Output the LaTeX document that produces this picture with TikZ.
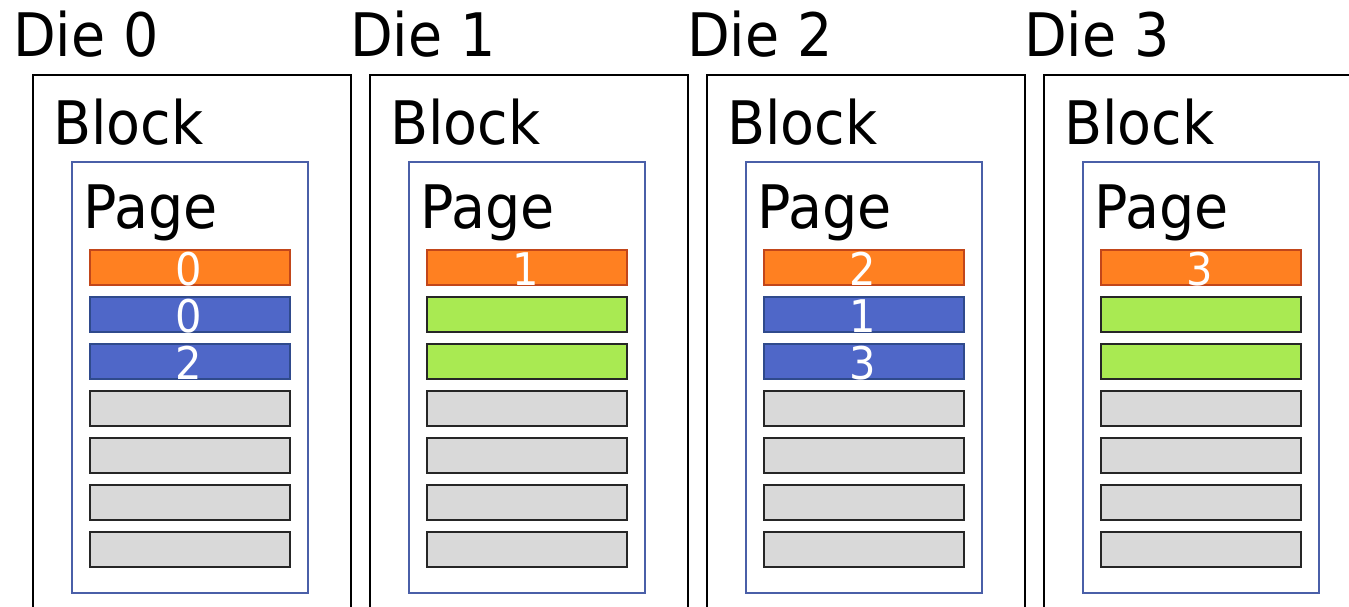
\documentclass[tikz,border=0pt]{standalone}
\usepackage{fontspec}
\setmainfont{DejaVu Sans}[FakeStretch=0.925]
\definecolor{pageorange}{HTML}{FF8021}
\definecolor{pageorangeline}{HTML}{C2461A}
\definecolor{pageblue}{HTML}{4F67C8}
\definecolor{pageblueline}{HTML}{2F4A8C}
\definecolor{pagegreen}{HTML}{A9EA52}
\definecolor{pagegray}{HTML}{D9D9D9}
\definecolor{frameblue}{HTML}{4A5FA8}
\tikzset{
  biglabel/.style={anchor=base west, inner sep=0pt, font=\fontsize{60}{60}\selectfont},
  diebox/.style={draw=black, line width=2pt, anchor=north west, inner sep=0pt,
                 minimum width=318pt, minimum height=560pt},
  pagebox/.style={draw=frameblue, line width=1.6pt, anchor=north west, inner sep=0pt,
                  minimum width=236pt, minimum height=431pt},
  slot/.style={anchor=north west, inner sep=0pt, line width=1.6pt,
               minimum width=200pt, minimum height=35pt},
  slotorange/.style={slot, fill=pageorange, draw=pageorangeline},
  slotblue/.style={slot, fill=pageblue, draw=pageblueline},
  slotgreen/.style={slot, fill=pagegreen, draw=black!85},
  slotgray/.style={slot, fill=pagegray, draw=black!85},
  slotnum/.style={anchor=base, inner sep=0pt, text=white, font=\fontsize{45}{45}\selectfont},
}
\begin{document}
\begin{tikzpicture}[x=1pt, y=-1pt]
  \useasboundingbox (0,0) rectangle (1349,607);
  \clip (0,0) rectangle (1349,607);
  \fill[white] (0,0) rectangle (1349,607);
  % one column per die: style list and label list of its seven pages
  \foreach \k/\kinds/\nums in {
      0/{slotorange,slotblue,slotblue,slotgray,slotgray,slotgray,slotgray}/{0,0,2,,,,},
      1/{slotorange,slotgreen,slotgreen,slotgray,slotgray,slotgray,slotgray}/{1,,,,,,},
      2/{slotorange,slotblue,slotblue,slotgray,slotgray,slotgray,slotgray}/{2,1,3,,,,},
      3/{slotorange,slotgreen,slotgreen,slotgray,slotgray,slotgray,slotgray}/{3,,,,,,}} {
    \pgfmathsetmacro{\ox}{337*\k}
    \node[biglabel] (die\k-title) at (\ox+13,57) {Die \k};
    \node[diebox] (die\k) at (\ox+32,74) {};
    \node[biglabel] (block\k-title) at (\ox+53,145) {Block};
    \node[pagebox] (page\k) at (\ox+71,161) {};
    \node[biglabel] (page\k-title) at (\ox+83,228) {Page};
    \foreach \st [count=\i from 0] in \kinds {
      \node[\st] (slot\k-\i) at (\ox+89,249+47*\i) {};
    }
    \foreach \n [count=\i from 0] in \nums {
      \node[slotnum] (num\k-\i) at (\ox+189,285+47*\i) {\n};
    }
  }
\end{tikzpicture}
\end{document}
